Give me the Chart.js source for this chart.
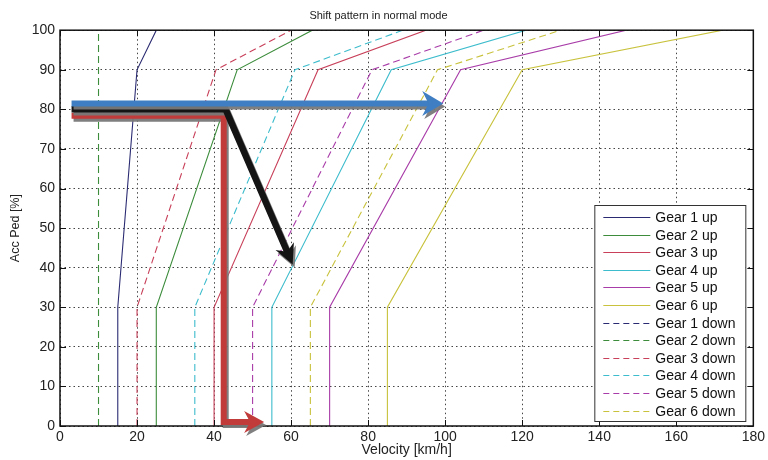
<!DOCTYPE html>
<html>
<head>
<meta charset="utf-8">
<script src="https://cdn.jsdelivr.net/npm/chart.js@4.4.1/dist/chart.umd.min.js"></script>
<style>
  html, body { margin: 0; padding: 0; background: #fff; }
  #wrap { width: 768px; height: 460px; }
</style>
</head>
<body>
<div id="wrap"><canvas id="shift"></canvas></div>
<script>
// shift lines: [velocity km/h, acc pedal %]
const gear1Up = [[15, 0], [15, 30], [20, 90], [25, 100]];
const gear2Up = [[25, 0], [25, 30], [46, 90], [65.5, 100]];
const gear3Up = [[40, 0], [40, 30], [67, 90], [95, 100]];
const gear4Up = [[55, 0], [55, 30], [86, 90], [121, 100]];
const gear5Up = [[70, 0], [70, 30], [104, 90], [147, 100]];
const gear6Up = [[85, 0], [85, 30], [120, 90], [172, 100]];

const gear1Down = [];
const gear2Down = [[10, 0], [10, 100]];
const gear3Down = [[20, 0], [20, 30], [40.5, 90], [60, 100]];
const gear4Down = [[35, 0], [35, 30], [61, 90], [89, 100]];
const gear5Down = [[50, 0], [50, 30], [81, 90], [110, 100]];
const gear6Down = [[65, 0], [65, 30], [98, 90], [130, 100]];

const gearColors = ['#2a2a72', '#3c8c3c', '#c8405a', '#3cbccc', '#a83ca8', '#c8c23c'];

const velocityTicks = [0, 20, 40, 60, 80, 100, 120, 140, 160, 180];
const pedalTicks = [0, 10, 20, 30, 40, 50, 60, 70, 80, 90, 100];

// annotation arrows, same units as the plot
const redArrow = [[3, 78.4], [42.5, 78.4], [42.5, 1.0], [53, 1.0]];
const blackArrow = [[3, 80], [43, 80], [60.4, 40.8]];
const blueArrow = [[3, 81.5], [99.5, 81.5]];

const upLines = [gear1Up, gear2Up, gear3Up, gear4Up, gear5Up, gear6Up];
const downLines = [gear1Down, gear2Down, gear3Down, gear4Down, gear5Down, gear6Down];

const toXY = pts => pts.map(p => ({ x: p[0], y: p[1] }));

const datasets = [];
upLines.forEach((pts, i) => datasets.push({
  label: 'Gear ' + (i + 1) + ' up',
  data: toXY(pts),
  borderColor: gearColors[i],
  borderWidth: 1.1,
  borderDash: [],
}));
downLines.forEach((pts, i) => datasets.push({
  label: 'Gear ' + (i + 1) + ' down',
  data: toXY(pts),
  borderColor: gearColors[i],
  borderWidth: 1.1,
  borderDash: [7, 4],
}));

const FONT = "'Liberation Sans', Arial, sans-serif";

function drawArrow(chart, pts, color, width, headLen, headHalf) {
  const { ctx, scales: { x, y } } = chart;
  const px = pts.map(p => [x.getPixelForValue(p[0]), y.getPixelForValue(p[1])]);
  const tip = px[px.length - 1];
  const prev = px[px.length - 2];
  const dx = tip[0] - prev[0], dy = tip[1] - prev[1];
  const len = Math.hypot(dx, dy);
  const ux = dx / len, uy = dy / len;
  const nx = -uy, ny = ux;
  const inner = [tip[0] - ux * headLen * 0.7, tip[1] - uy * headLen * 0.7];
  const back = [tip[0] - ux * headLen, tip[1] - uy * headLen];

  ctx.save();
  ctx.shadowColor = 'rgba(120,120,120,0.95)';
  ctx.shadowOffsetX = 2;
  ctx.shadowOffsetY = 3;
  ctx.shadowBlur = 0;
  ctx.strokeStyle = color;
  ctx.fillStyle = color;
  ctx.lineWidth = width;
  ctx.lineJoin = 'miter';
  ctx.lineCap = 'butt';
  ctx.beginPath();
  ctx.moveTo(px[0][0], px[0][1]);
  for (let i = 1; i < px.length - 1; i++) ctx.lineTo(px[i][0], px[i][1]);
  ctx.lineTo(inner[0] + ux, inner[1] + uy);
  ctx.stroke();
  ctx.beginPath();
  ctx.moveTo(tip[0], tip[1]);
  ctx.lineTo(back[0] + nx * headHalf, back[1] + ny * headHalf);
  ctx.lineTo(inner[0], inner[1]);
  ctx.lineTo(back[0] - nx * headHalf, back[1] - ny * headHalf);
  ctx.closePath();
  ctx.fill();
  ctx.restore();
}

const overlay = {
  id: 'overlay',
  afterDraw(chart) {
    const { ctx, chartArea: a, scales: { x, y } } = chart;

    // axes box with inward ticks
    ctx.save();
    ctx.strokeStyle = '#111';
    ctx.lineWidth = 1;
    velocityTicks.forEach(v => {
      const p = Math.round(x.getPixelForValue(v)) + 0.5;
      ctx.beginPath();
      ctx.moveTo(p, a.bottom); ctx.lineTo(p, a.bottom - 6);
      ctx.moveTo(p, a.top); ctx.lineTo(p, a.top + 6);
      ctx.stroke();
    });
    pedalTicks.forEach(v => {
      const p = Math.round(y.getPixelForValue(v)) + 0.5;
      ctx.beginPath();
      ctx.moveTo(a.left, p); ctx.lineTo(a.left + 6, p);
      ctx.moveTo(a.right, p); ctx.lineTo(a.right - 6, p);
      ctx.stroke();
    });
    ctx.lineWidth = 1.5;
    ctx.strokeRect(a.left, a.top, a.right - a.left, a.bottom - a.top);
    ctx.restore();

    drawArrow(chart, redArrow, '#c23b3b', 6, 20, 11);
    drawArrow(chart, blackArrow, '#141414', 6.5, 20, 10);
    drawArrow(chart, blueArrow, '#3f7ec2', 6, 21, 12.5);

    // legend box, bottom right inside the axes
    const bw = 151, bh = 216;
    const bx = a.right - 8 - bw, by = a.bottom - 5 - bh;
    ctx.save();
    ctx.fillStyle = '#fff';
    ctx.fillRect(bx, by, bw, bh);
    ctx.strokeStyle = '#333';
    ctx.lineWidth = 1;
    ctx.strokeRect(bx + 0.5, by + 0.5, bw, bh);
    ctx.font = '14px ' + FONT;
    ctx.textBaseline = 'middle';
    ctx.fillStyle = '#111';
    chart.data.datasets.forEach((ds, i) => {
      const ry = Math.round(by + 12 + i * 17.6) + 0.5;
      ctx.strokeStyle = ds.borderColor;
      ctx.lineWidth = 1.2;
      ctx.setLineDash(ds.borderDash.length ? [6, 4] : []);
      ctx.beginPath();
      ctx.moveTo(bx + 9, ry);
      ctx.lineTo(bx + 56, ry);
      ctx.stroke();
      ctx.setLineDash([]);
      ctx.fillText(ds.label, bx + 61, ry + 0.5);
    });
    ctx.restore();
  }
};

new Chart(document.getElementById('shift'), {
  type: 'scatter',
  data: { datasets },
  options: {
    responsive: true,
    maintainAspectRatio: false,
    animation: false,
    showLine: true,
    elements: { point: { radius: 0, hoverRadius: 0 }, line: { tension: 0 } },
    layout: { padding: { left: 0, right: 11, top: 0, bottom: 0 } },
    plugins: {
      legend: { display: false },
      tooltip: { enabled: false },
      title: {
        display: true,
        text: 'Shift pattern in normal mode',
        color: '#222',
        font: { family: FONT, size: 11, weight: 'normal' },
        padding: { top: 9, bottom: 8 },
      },
    },
    scales: {
      x: {
        type: 'linear',
        min: 0, max: 180,
        afterBuildTicks: s => { s.ticks = velocityTicks.map(v => ({ value: v })); },
        afterFit: s => { s.height = 34; },
        ticks: { color: '#222', font: { family: FONT, size: 14 }, padding: 3, maxRotation: 0 },
        grid: { color: '#444', lineWidth: 1, drawTicks: false },
        border: { display: false, dash: [1.5, 3] },
        title: {
          display: true, text: 'Velocity [km/h]', color: '#222',
          font: { family: FONT, size: 14 }, padding: { top: 0, bottom: 1 },
        },
      },
      y: {
        type: 'linear',
        min: 0, max: 100,
        afterBuildTicks: s => { s.ticks = pedalTicks.map(v => ({ value: v })); },
        afterFit: s => { s.width = 60; },
        ticks: { color: '#222', font: { family: FONT, size: 14 }, padding: 5 },
        grid: { color: '#444', lineWidth: 1, drawTicks: false },
        border: { display: false, dash: [1.5, 3] },
        title: {
          display: true, text: 'Acc Ped [%]', color: '#222',
          font: { family: FONT, size: 12.5 }, padding: { top: 8, bottom: 0 },
        },
      },
    },
  },
  plugins: [overlay],
});
</script>
</body>
</html>
